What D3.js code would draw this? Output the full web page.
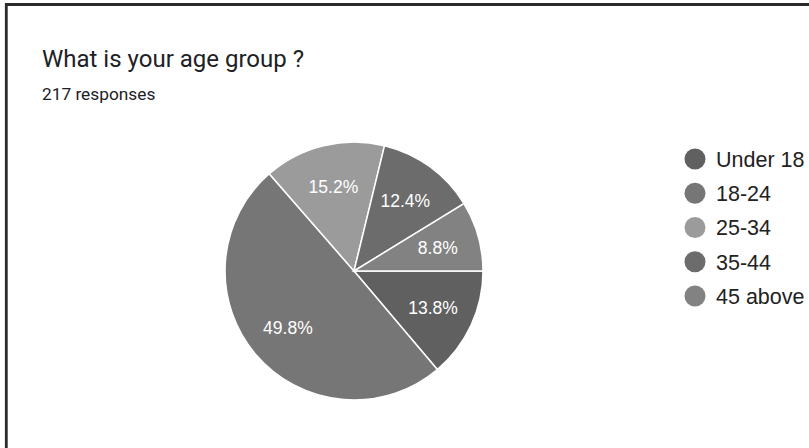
<!DOCTYPE html>
<html>
<head>
<meta charset="utf-8">
<script src="https://cdn.jsdelivr.net/npm/d3@7"></script>
<style>
  html, body { margin: 0; padding: 0; background: #fff; }
  svg { display: block; }
</style>
</head>
<body>
<svg id="chart" width="809" height="448"></svg>
<script>
// Survey answers: "What is your age group ?" (217 responses)
const categories = ["Under 18", "18-24", "25-34", "35-44", "45 above"];
const counts = [30, 108, 33, 27, 19];
const percentLabels = ["13.8%", "49.8%", "15.2%", "12.4%", "8.8%"];
const sliceColors = ["#606060", "#767676", "#9b9b9b", "#6c6c6c", "#828282"];
const titleText = "What is your age group ?";
const subtitleText = "217 responses";

const svg = d3.select("#chart");
const W = 809, H = 448;

svg.append("rect").attr("width", W).attr("height", H).attr("fill", "#fff");

// card frame (left and top edges)
svg.append("path")
  .attr("d", `M6.3,${H} V4.5 H${W}`)
  .attr("fill", "none")
  .attr("stroke", "#2b2b2b")
  .attr("stroke-width", 2.8);

svg.append("text")
  .attr("x", 42).attr("y", 67)
  .attr("font-family", "Roboto, 'Liberation Sans', sans-serif")
  .attr("font-size", 24)
  .attr("fill", "#202124")
  .text(titleText);

svg.append("text")
  .attr("x", 42).attr("y", 100)
  .attr("font-family", "Roboto, 'Liberation Sans', sans-serif")
  .attr("font-size", 17.3)
  .attr("fill", "#202124")
  .text(subtitleText);

// pie
const cx = 354, cy = 271, r = 129;
const color = d3.scaleOrdinal().domain(categories).range(sliceColors);
const data = categories.map((c, i) => ({ cat: c, value: counts[i], label: percentLabels[i] }));

const pie = d3.pie()
  .value(d => d.value)
  .sort(null)
  .startAngle(Math.PI / 2)
  .endAngle(Math.PI / 2 + 2 * Math.PI);

const arc = d3.arc().innerRadius(0).outerRadius(r);
const labelArc = d3.arc().innerRadius(r * 0.675).outerRadius(r * 0.675);

const g = svg.append("g").attr("transform", `translate(${cx},${cy})`);
const arcs = pie(data);

g.selectAll("path.slice")
  .data(arcs)
  .join("path")
  .attr("class", "slice")
  .attr("d", arc)
  .attr("fill", d => color(d.data.cat))
  .attr("stroke", "#fff")
  .attr("stroke-width", 1.5);

g.selectAll("text.pct")
  .data(arcs)
  .join("text")
  .attr("class", "pct")
  .attr("transform", d => `translate(${labelArc.centroid(d)})`)
  .attr("text-anchor", "middle")
  .attr("dy", "0.36em")
  .attr("font-family", "'Liberation Sans', Arial, sans-serif")
  .attr("font-size", 17.5)
  .attr("fill", "#fff")
  .text(d => d.data.label);

// legend
const legendY = d3.scalePoint().domain(categories).range([159, 296]);
const legend = svg.append("g")
  .selectAll("g")
  .data(categories)
  .join("g")
  .attr("transform", d => `translate(695,${legendY(d)})`);

legend.append("circle")
  .attr("r", 10.5)
  .attr("fill", d => color(d));

legend.append("text")
  .attr("x", 21)
  .attr("dy", "0.36em")
  .attr("font-family", "'Liberation Sans', Arial, sans-serif")
  .attr("font-size", 21.5)
  .attr("fill", "#222")
  .text(d => d);
</script>
</body>
</html>
